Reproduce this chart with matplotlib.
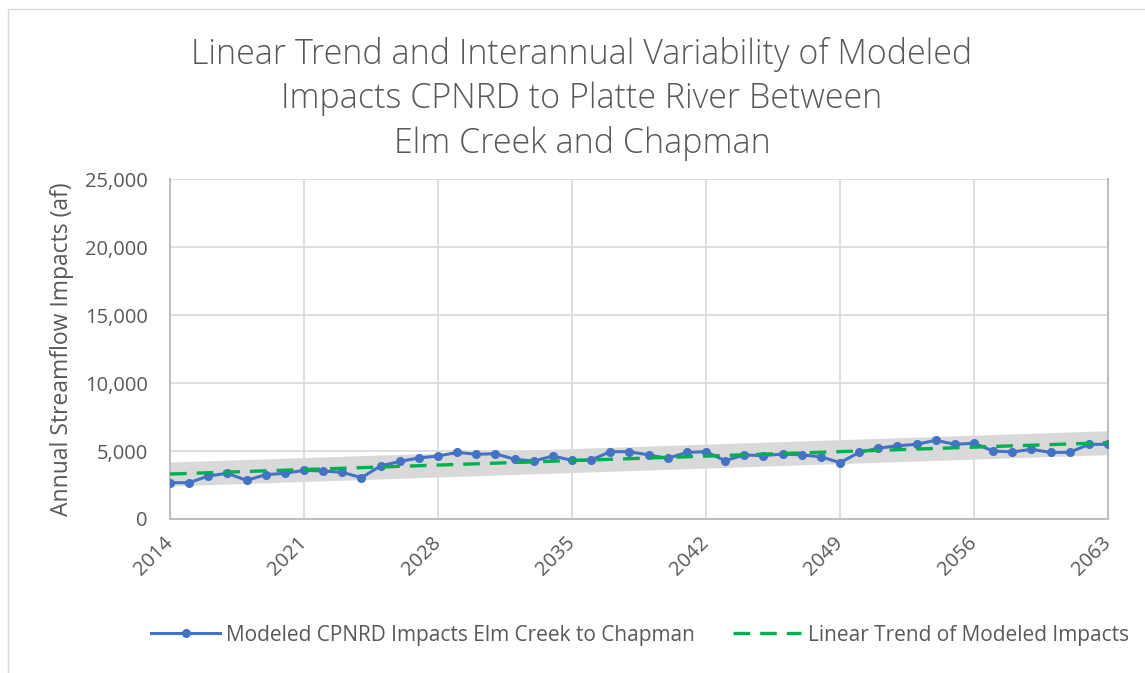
import numpy as np
import matplotlib
matplotlib.use("Agg")
import matplotlib.pyplot as plt
from matplotlib.patches import Rectangle

years = list(range(2014, 2064))
impacts = [2670, 2670, 3160, 3360, 2840, 3260, 3360, 3580, 3530, 3430,
           3040, 3900, 4230, 4490, 4630, 4900, 4760, 4800, 4390, 4260,
           4630, 4310, 4340, 4950, 4950, 4710, 4460, 4900, 4950, 4290,
           4710, 4660, 4780, 4710, 4580, 4140, 4900, 5200, 5390, 5490,
           5790, 5490, 5570, 5000, 4930, 5120, 4900, 4900, 5490, 5490]
band_halfwidth = 880
xtick_years = list(range(2014, 2064, 7))
yticks = [0, 5000, 10000, 15000, 20000, 25000]

title = "Linear Trend and Interannual Variability of Modeled\nImpacts CPNRD to Platte River Between\nElm Creek and Chapman"
ylabel = "Annual Streamflow Impacts (af)"
label_series = "Modeled CPNRD Impacts Elm Creek to Chapman"
label_trend = "Linear Trend of Modeled Impacts"

plt.rcParams['font.family'] = ['Open Sans', 'DejaVu Sans']
txt = '#595959'

fig = plt.figure(figsize=(11.45, 6.73), dpi=100)
ax = fig.add_axes([170/1145, 1-519/673, (1108-170)/1145, (519-179)/673])

x = np.array(years)
y = np.array(impacts)
coef = np.polyfit(x, y, 1)
trend = np.polyval(coef, x)

ax.fill_between(x, trend - band_halfwidth, trend + band_halfwidth,
                color='#d9d9d9', lw=0, zorder=1)
ax.plot(x, y, color='#4472C4', lw=2.2, marker='o', ms=5.5, zorder=3,
        label=label_series)
ax.plot(x, trend, color='#00B050', lw=2.4, ls=(0, (5, 3)), zorder=4,
        label=label_trend)

ax.set_xlim(2014, 2063)
ax.set_ylim(0, 25000)
ax.set_xticks(xtick_years)
ax.set_xticklabels([str(v) for v in xtick_years], rotation=45, ha='right',
                   va='center', rotation_mode='anchor', fontsize=14.5, color=txt)
ax.set_yticks(yticks)
ax.set_yticklabels([f"{v:,}" for v in yticks], fontsize=14.5, color=txt)
ax.tick_params(axis='both', length=0)
ax.tick_params(axis='y', pad=16)
ax.tick_params(axis='x', pad=15)
ax.grid(True, color='#d9d9d9', lw=1.2, zorder=0)
ax.set_axisbelow(True)
ax.spines['top'].set_visible(False)
for s in ['left', 'bottom', 'right']:
    ax.spines[s].set_color('#bfbfbf')
    ax.spines[s].set_linewidth(1.5)

ax.set_ylabel(ylabel, fontsize=16.5, color=txt, labelpad=8)

fig.text(582/1145, 1-99/673, title, ha='center', va='center',
         fontsize=24.5, color=txt, linespacing=1.36, fontweight='light')

leg = fig.legend(loc='center', bbox_to_anchor=(640/1145, 1-635/673), ncol=2,
                 frameon=False, fontsize=15, labelcolor=txt, handlelength=3.3,
                 columnspacing=1.8, handletextpad=0.3)

fig.patches.append(Rectangle((8/1145, -0.01), 1.0, 1-9/673 + 0.01,
                             transform=fig.transFigure, fill=False,
                             edgecolor='#d9d9d9', lw=1))

fig.savefig('out.png', dpi=100, facecolor='white')
